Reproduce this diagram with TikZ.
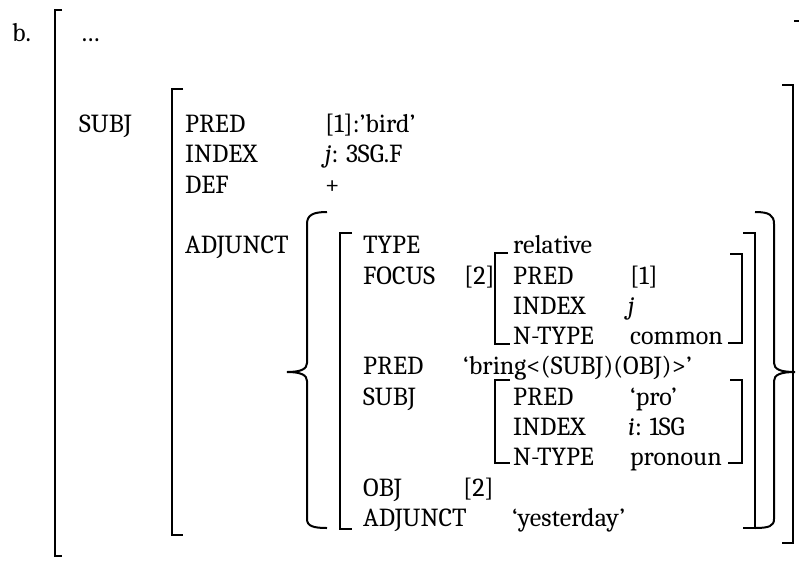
\documentclass[tikz,border=0pt]{standalone}
\usepackage{fontspec}
\IfFontExistsTF{Caladea}{\setmainfont{Caladea}}{\setmainfont{Liberation Serif}}
\newcommand\fsz{\fontsize{26}{30}\selectfont}
\tikzset{
  t/.style={anchor=base west, inner sep=0pt, font=\fsz},
  brk/.style={line width=2pt, line join=miter},
}
\begin{document}
\begin{tikzpicture}[x=1pt,y=-1pt]
\useasboundingbox (0,0) rectangle (799,560);
% baselines
\def\Bm{41.6}
\def\Ba{132.5}\def\Bb{162.8}\def\Bc{193.1}
\def\Be{253.7}\def\Bf{284.0}\def\Bg{314.3}\def\Bh{344.6}
\def\Bi{374.9}\def\Bj{405.2}\def\Bk{435.5}\def\Bl{465.8}
\def\Bn{496.1}\def\Bo{526.4}
% text
\node[t] (lbl) at (12,\Bm) {b.};
\node[t] (dots) at (80,\Bm) {…};
\node[t] (subj) at (79,\Ba) {SUBJ};
\node[t] (pred) at (185,\Ba) {PRED};
\node[t] (predv) at (325,\Ba) {[1]:’bird’};
\node[t] (index) at (185,\Bb) {INDEX};
\node[t] (indexv) at (325,\Bb) {\textit{j}: 3SG.F};
\node[t] (def) at (185,\Bc) {DEF};
\node[t] (defv) at (325,\Bc) {+};
\node[t] (adj) at (185,\Be) {ADJUNCT};
\node[t] (type) at (363,\Be) {TYPE};
\node[t] (typev) at (513,\Be) {relative};
\node[t] (focus) at (363,\Bf) {FOCUS};
\node[t] (ftag) at (464,\Bf) {[2]};
\node[t] (fpred) at (513,\Bf) {PRED};
\node[t] (fpredv) at (630,\Bf) {[1]};
\node[t] (findex) at (513,\Bg) {INDEX};
\node[t] (findexv) at (628,\Bg) {\textit{j}};
\node[t] (fntype) at (513,\Bh) {N-TYPE};
\node[t] (fntypev) at (630,\Bh) {common};
\node[t] (rpred) at (363,\Bi) {PRED};
\node[t] (rpredv) at (463,\Bi) {‘bring<(SUBJ)(OBJ)>’};
\node[t] (rsubj) at (363,\Bj) {SUBJ};
\node[t] (spred) at (513,\Bj) {PRED};
\node[t] (spredv) at (630,\Bj) {‘pro’};
\node[t] (sindex) at (513,\Bk) {INDEX};
\node[t] (sindexv) at (628,\Bk) {\textit{i}: 1SG};
\node[t] (sntype) at (513,\Bl) {N-TYPE};
\node[t] (sntypev) at (630,\Bl) {pronoun};
\node[t] (robj) at (363,\Bn) {OBJ};
\node[t] (robjv) at (463,\Bn) {[2]};
\node[t] (radj) at (363,\Bo) {ADJUNCT};
\node[t] (radjv) at (512,\Bo) {‘yesterday’};
% outer brackets
\draw[brk] (62,10) -- (55,10) -- (55,556) -- (62,556);
\draw[brk] (794,21) -- (800,21);
% SUBJ f-structure
\draw[brk] (183,89) -- (172,89) -- (172,535) -- (183,535);
\draw[brk] (782,85) -- (793,85) -- (793,543) -- (782,543);
% ADJUNCT set braces
\draw[brk] (327,212) .. controls (313,212) and (307,215) .. (307,224) -- (307,363)
  .. controls (307,369) and (301,372) .. (287,372)
  .. controls (301,372) and (307,375) .. (307,381) -- (307,519)
  .. controls (307,526) and (313,528) .. (327,528);
\draw[brk] (755,212) .. controls (769,212) and (774,215) .. (774,224) -- (774,363)
  .. controls (774,369) and (780,372) .. (795,372)
  .. controls (780,372) and (774,375) .. (774,381) -- (774,519)
  .. controls (774,526) and (769,528) .. (755,528);
% relative clause f-structure
\draw[brk] (352,233) -- (340,233) -- (340,529) -- (352,529);
\draw[brk] (743,233) -- (755,233) -- (755,528) -- (743,528);
% FOCUS f-structure
\draw[brk] (508,253) -- (495,253) -- (495,344) -- (510,344);
\draw[brk] (730,254) -- (742,254) -- (742,343) -- (728,343);
% inner SUBJ f-structure
\draw[brk] (510,380) -- (495,380) -- (495,463) -- (510,463);
\draw[brk] (730,380) -- (742,380) -- (742,463) -- (728,463);
\end{tikzpicture}
\end{document}
